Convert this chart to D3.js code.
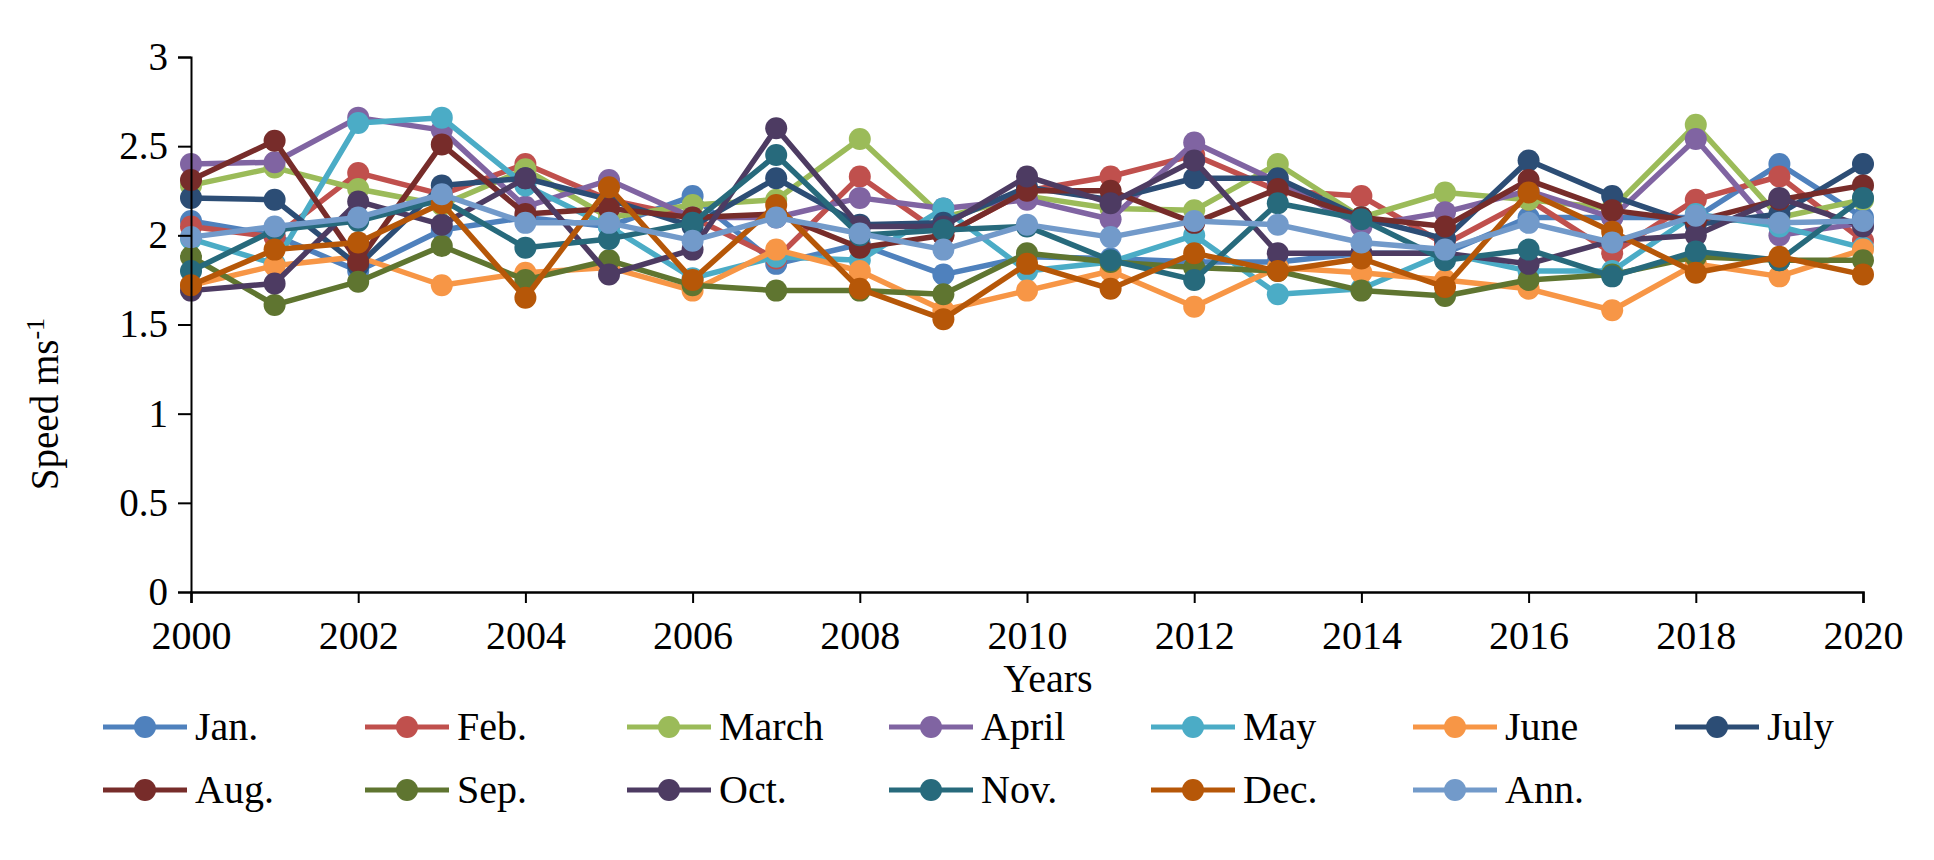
<!DOCTYPE html>
<html>
<head>
<meta charset="utf-8">
<script src="https://cdn.jsdelivr.net/npm/d3@7"></script>
<style>
  html, body { margin: 0; padding: 0; background: #fff; }
  svg { display: block; }
  svg text { font-family: "Liberation Serif", "DejaVu Serif", "Noto Serif", serif; }
</style>
</head>
<body>
<svg id="chart" width="1934" height="860"></svg>
<script>
const years = d3.range(2000, 2021);
const xTickYears = [2000, 2002, 2004, 2006, 2008, 2010, 2012, 2014, 2016, 2018, 2020];
const yTicks = [0, 0.5, 1, 1.5, 2, 2.5, 3];
const seriesNames = ["Jan.", "Feb.", "March", "April", "May", "June", "July", "Aug.", "Sep.", "Oct.", "Nov.", "Dec.", "Ann."];
const seriesColors = ["#4F81BD", "#C0504D", "#9BBB59", "#8064A2", "#4BACC6", "#F79646", "#2C4D75", "#772C2A", "#5F7530", "#4D3B62", "#276A7C", "#B65708", "#729ACA"];

const jan   = [2.08, 2.00, 1.80, 2.03, 2.10, 2.05, 2.22, 1.84, 1.95, 1.78, 1.88, 1.87, 1.85, 1.85, 1.90, 1.90, 2.10, 2.10, 2.10, 2.40, 2.10];
const feb   = [2.05, 1.99, 2.35, 2.23, 2.40, 2.20, 2.10, 1.87, 2.33, 2.00, 2.25, 2.33, 2.45, 2.25, 2.22, 1.95, 2.20, 1.90, 2.20, 2.33, 1.97];
const march = [2.28, 2.38, 2.26, 2.17, 2.37, 2.10, 2.17, 2.20, 2.54, 2.10, 2.22, 2.15, 2.14, 2.40, 2.10, 2.24, 2.20, 2.15, 2.62, 2.10, 2.20];
const april = [2.40, 2.41, 2.66, 2.59, 2.16, 2.31, 2.10, 2.10, 2.21, 2.15, 2.20, 2.09, 2.52, 2.30, 2.05, 2.13, 2.25, 2.10, 2.54, 2.00, 2.07];
const may   = [1.98, 1.84, 2.63, 2.66, 2.28, 2.05, 1.76, 1.88, 1.86, 2.15, 1.80, 1.85, 2.00, 1.67, 1.70, 1.90, 1.80, 1.80, 2.12, 2.05, 1.93];
const june  = [1.72, 1.83, 1.88, 1.72, 1.79, 1.82, 1.69, 1.92, 1.80, 1.58, 1.69, 1.80, 1.60, 1.82, 1.79, 1.75, 1.70, 1.58, 1.84, 1.77, 1.92];
const july  = [2.21, 2.20, 1.83, 2.28, 2.32, 2.20, 2.05, 2.32, 2.06, 2.07, 2.27, 2.20, 2.32, 2.32, 2.10, 1.98, 2.42, 2.22, 2.06, 2.12, 2.40];
const aug   = [2.31, 2.53, 1.85, 2.51, 2.12, 2.15, 2.10, 2.12, 1.93, 2.00, 2.25, 2.25, 2.07, 2.26, 2.10, 2.05, 2.31, 2.14, 2.08, 2.20, 2.28];
const sep   = [1.88, 1.61, 1.74, 1.94, 1.75, 1.86, 1.72, 1.69, 1.69, 1.67, 1.90, 1.85, 1.82, 1.80, 1.69, 1.66, 1.75, 1.78, 1.88, 1.86, 1.86];
const oct   = [1.69, 1.73, 2.19, 2.06, 2.32, 1.78, 1.92, 2.60, 2.05, 2.05, 2.33, 2.18, 2.42, 1.90, 1.90, 1.90, 1.84, 1.97, 2.00, 2.21, 2.05];
const nov   = [1.80, 2.03, 2.08, 2.20, 1.93, 1.98, 2.07, 2.45, 2.00, 2.03, 2.05, 1.86, 1.75, 2.18, 2.09, 1.86, 1.92, 1.77, 1.91, 1.86, 2.21];
const dec   = [1.72, 1.92, 1.96, 2.18, 1.65, 2.27, 1.75, 2.17, 1.70, 1.53, 1.84, 1.70, 1.90, 1.80, 1.87, 1.71, 2.24, 2.02, 1.79, 1.88, 1.78];
const ann   = [1.99, 2.05, 2.10, 2.23, 2.07, 2.07, 1.97, 2.10, 2.01, 1.92, 2.06, 1.99, 2.08, 2.06, 1.96, 1.92, 2.07, 1.96, 2.11, 2.07, 2.08];

const seriesValues = [jan, feb, march, april, may, june, july, aug, sep, oct, nov, dec, ann];

const FONT = "'Liberation Serif', 'DejaVu Serif', 'Noto Serif', serif";
const svg = d3.select("#chart");
const plotLeft = 191, plotRight = 1863, plotTop = 57, plotBottom = 592;

const x = d3.scaleLinear().domain([2000, 2020]).range([plotLeft, plotRight]);
const y = d3.scaleLinear().domain([0, 3]).range([plotBottom, plotTop]);

// Series lines and markers
const line = d3.line().x((d, i) => x(years[i])).y(d => y(d));
seriesValues.forEach((vals, s) => {
  const g = svg.append("g");
  g.append("path")
    .attr("d", line(vals))
    .attr("fill", "none")
    .attr("stroke", seriesColors[s])
    .attr("stroke-width", 5.5)
    .attr("stroke-linejoin", "round");
  g.selectAll("circle").data(vals).enter().append("circle")
    .attr("cx", (d, i) => x(years[i]))
    .attr("cy", d => y(d))
    .attr("r", 11)
    .attr("fill", seriesColors[s]);
});

// Y axis
const yAxis = d3.axisLeft(y).tickValues(yTicks).tickSize(13).tickPadding(10)
  .tickFormat(d => String(d));
const yg = svg.append("g").attr("transform", `translate(${plotLeft},0)`).call(yAxis);
yg.attr("font-family", null);
yg.select(".domain").attr("stroke", "#000").attr("stroke-width", 2);
yg.selectAll(".tick line").attr("stroke", "#000").attr("stroke-width", 2);
yg.selectAll(".tick text").attr("font-size", 39).attr("fill", "#000")
  .style("font-family", FONT);

// X axis
const xAxis = d3.axisBottom(x).tickValues(xTickYears).tickSize(11).tickPadding(18)
  .tickFormat(d3.format("d"));
const xg = svg.append("g").attr("transform", `translate(0,${plotBottom})`).call(xAxis);
xg.attr("font-family", null);
xg.select(".domain").attr("stroke", "#000").attr("stroke-width", 2.5);
xg.selectAll(".tick line").attr("stroke", "#000").attr("stroke-width", 2);
xg.selectAll(".tick text").attr("font-size", 40).attr("fill", "#000")
  .style("font-family", FONT);

// Axis titles
svg.append("text")
  .attr("x", 1048).attr("y", 692)
  .attr("text-anchor", "middle")
  .attr("font-size", 40)
  .style("font-family", FONT)
  .text("Years");

const yt = svg.append("text")
  .attr("transform", "translate(58,404) rotate(-90)")
  .attr("text-anchor", "middle")
  .attr("font-size", 39)
  .style("font-family", FONT);
yt.append("tspan").text("Speed ms");
yt.append("tspan").attr("dy", -14).attr("font-size", 26).text("-1");

// Legend
const legend = svg.append("g");
seriesNames.forEach((name, i) => {
  const row = Math.floor(i / 7), col = i % 7;
  const lx = 103 + col * 262;
  const ly = 727 + row * 63;
  const item = legend.append("g");
  item.append("line")
    .attr("x1", lx).attr("x2", lx + 84)
    .attr("y1", ly).attr("y2", ly)
    .attr("stroke", seriesColors[i]).attr("stroke-width", 5);
  item.append("circle")
    .attr("cx", lx + 42).attr("cy", ly).attr("r", 11)
    .attr("fill", seriesColors[i]);
  item.append("text")
    .attr("x", lx + 92).attr("y", ly + 13)
    .attr("font-size", 40)
    .style("font-family", FONT)
    .text(name);
});
</script>
</body>
</html>
